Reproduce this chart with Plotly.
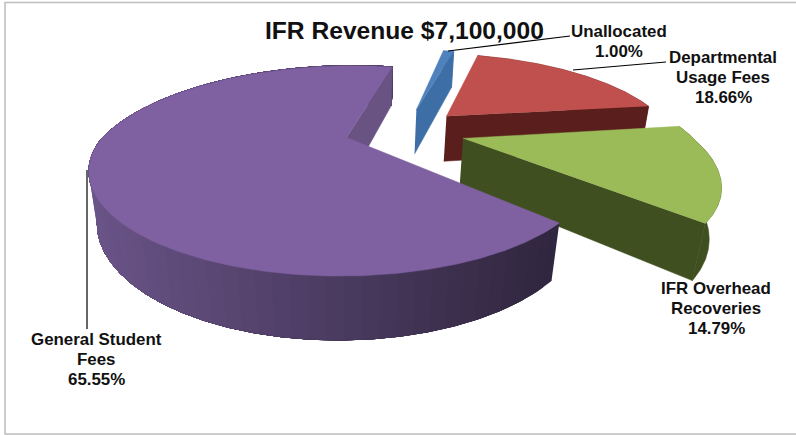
import numpy as np
import plotly.graph_objects as go

categories = [["Departmental", "Usage Fees"], ["IFR Overhead", "Recoveries"], ["General Student", "Fees"], ["Unallocated"]]
values = [18.66, 14.79, 65.55, 1.00]
top_colors = ["#c0504d", "#9bbb59", "#7f60a0", "#4f81bd"]
wall_colors = ["#5a1f1c", "#3f4f20", "#695383", "#3d6ea6"]
title_text = "IFR Revenue $7,100,000"

# camera / layout of the 3-D pie
START = 75.0
X0, Y0, R, RB, K, KX, M, H, SHEAR = 345, 140, 241, 96.2, 0.32, 0.02, 0.03, 50, 14
CX, CY, PULL = 0.252, 0.10, 0.258


def project(px, py, z):
    w = 1 + K * py + KX * px + M * z
    return X0 + (R * px + SHEAR * np.maximum(py, 0)) / w, Y0 - (RB * py - H * z) / w


def poly(fig, xs, ys, color):
    fig.add_trace(go.Scatter(x=list(xs), y=list(ys), mode="lines", fill="toself",
                             fillcolor=color, line=dict(width=0.5, color=color),
                             showlegend=False, hoverinfo="skip"))


def hex_mix(a, b, t):
    ca = [int(a[i:i + 2], 16) for i in (1, 3, 5)]
    cb = [int(b[i:i + 2], 16) for i in (1, 3, 5)]
    return "rgb(%d,%d,%d)" % tuple(round(p + (q - p) * t) for p, q in zip(ca, cb))


fig = go.Figure()

angles = {}
a = START
for i, v in enumerate(values):
    a2 = a - v * 3.6
    angles[i] = (a, a2)
    a = a2

for i in [3, 0, 1, 2]:
    a1, a2 = angles[i]
    mid = np.radians((a1 + a2) / 2)
    ax, ay = CX + PULL * np.cos(mid), CY + PULL * np.sin(mid)
    t = np.radians(np.linspace(a1, a2, int(abs(a1 - a2) * 2) + 2))
    ox, oy = ax + np.cos(t), ay + np.sin(t)

    tx, ty = project(ox, oy, 0)
    bx, by = project(ox, oy, 1)
    if i == 2:
        step = 6
        for j in range(0, len(t) - 1, step):
            f = np.clip((tx[j] - 90) / 470, 0, 1)
            col = hex_mix("#6a5488", "#30263f", f)
            poly(fig, list(tx[j:]) + list(bx[j:][::-1]), list(ty[j:]) + list(by[j:][::-1]), col)
    else:
        poly(fig, list(tx) + list(bx[::-1]), list(ty) + list(by[::-1]), wall_colors[i])

    # the cut face that looks toward the viewer
    ex, ey = ox[-1], oy[-1]
    p = [project(ax, ay, 0), project(ex, ey, 0), project(ex, ey, 1), project(ax, ay, 1)]
    poly(fig, [q[0] for q in p], [q[1] for q in p], wall_colors[i])

    apx, apy = project(ax, ay, 0)
    poly(fig, [apx] + list(tx), [apy] + list(ty), top_colors[i])

for xs, ys in [([448, 567, 570], [51, 36, 36]),
               ([573, 660, 666], [70, 62, 62]),
               ([87, 87], [170, 329])]:
    fig.add_trace(go.Scatter(x=xs, y=ys, mode="lines", line=dict(color="#000000", width=1.2),
                             showlegend=False, hoverinfo="skip"))

label_pos = [(723, 77), (716, 308), (96, 359), (619, 41)]
LINE_GAP = 20
annotations = []
for cat, val, (lx, ly) in zip(categories, values, label_pos):
    lines = cat + ["%.2f%%" % val]
    for n, line in enumerate(lines):
        annotations.append(dict(x=lx, y=ly + (n - (len(lines) - 1) / 2) * LINE_GAP, xref="x", yref="y",
                                showarrow=False, xanchor="center", yanchor="middle",
                                text="<b>%s</b>" % line,
                                font=dict(family="Liberation Sans", size=16.9, color="#111111")))
annotations.append(dict(x=404, y=30, xref="x", yref="y", showarrow=False, xanchor="center", yanchor="middle",
                        text="<b>%s</b>" % title_text,
                        font=dict(family="Liberation Sans", size=24.6, color="#111111")))

fig.update_layout(
    width=796, height=435, margin=dict(l=0, r=0, t=0, b=0),
    paper_bgcolor="white", plot_bgcolor="white", showlegend=False,
    xaxis=dict(range=[0, 796], visible=False, fixedrange=True),
    yaxis=dict(range=[435, 0], visible=False, fixedrange=True),
    annotations=annotations,
    shapes=[dict(type="rect", xref="x", yref="y", x0=5, y0=2.5, x1=820, y1=434,
                 line=dict(color="#bdbdbd", width=1.5), layer="below")],
)
fig.write_html("out.html", config={"displayModeBar": False},
               post_script="document.body.style.margin='0';document.documentElement.style.overflow='hidden';")
